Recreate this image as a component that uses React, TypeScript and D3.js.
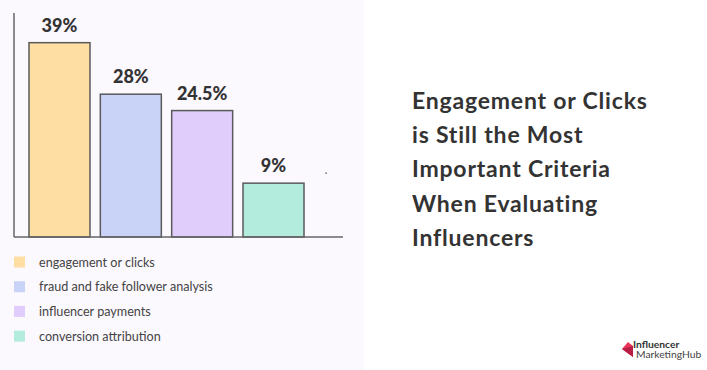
import * as React from "react"
import * as d3 from "d3"

// chart values
const categories = ["engagement or clicks", "fraud and fake follower analysis", "influencer payments", "conversion attribution"]
const shares = [39, 28, 24.5, 9]
const valueLabels = ["39%", "28%", "24.5%", "9%"]
const barColors = ["#ffdea3", "#c9d3f7", "#e1cdfb", "#b3ecdc"]
const titleLines = ["Engagement or Clicks", "is Still the Most", "Important Criteria", "When Evaluating", "Influencers"]

const font = "Lato, 'Open Sans', sans-serif"

export default function App() {
    const [w, h] = [707, 370]
    const axis = { left: 14, top: 13, bottom: 237, right: 343 }

    const xScale = d3
        .scaleBand()
        .domain(categories)
        .range([29, 304])
        .paddingInner(0.145)
        .paddingOuter(0)

    const yScale = d3
        .scaleLinear()
        .domain([-2.5, 40])
        .range([axis.bottom, 38])

    const bars = categories.map((c, i) => {
        const x = xScale(c) ?? 0
        const y = yScale(shares[i])
        return (
            <g key={c}>
                <rect
                    x={x}
                    y={y}
                    width={xScale.bandwidth()}
                    height={axis.bottom - y}
                    fill={barColors[i]}
                    stroke="#5a5a5a"
                    strokeWidth={1.5}
                />
                <text
                    x={x + xScale.bandwidth() / 2}
                    y={y - 11}
                    textAnchor="middle"
                    fontSize={18}
                    fontWeight={900}
                    fontFamily={font}
                    fill="#333"
                >
                    {valueLabels[i]}
                </text>
            </g>
        )
    })

    const legend = categories.map((c, i) => (
        <g key={c} transform={`translate(14, ${262 + i * 24.7})`}>
            <rect x={0} y={-5.5} width={11} height={11} fill={barColors[i]} />
            <text x={25} y={4.5} fontSize={12.6} fontFamily={font} fill="#444">
                {c}
            </text>
        </g>
    ))

    return (
        <div>
            <svg width={w} height={h} style={{ position: "absolute", left: 0, top: 0 }}>
                <rect x={0} y={0} width={w} height={h} fill="#ffffff" />
                <rect x={0} y={0} width={364} height={h} fill="#fbf8fe" />
                {bars}
                <line x1={axis.left} x2={axis.left} y1={axis.top} y2={axis.bottom} stroke="#666" strokeWidth={1.5} />
                <line x1={axis.left} x2={axis.right} y1={axis.bottom} y2={axis.bottom} stroke="#666" strokeWidth={1.5} />
                <rect x={325.5} y={172.5} width={1.2} height={1.2} fill="#222" />
                {legend}
                <g fontFamily={font} fontWeight={700} fontSize={23} letterSpacing={0.8} fill="#333">
                    {titleLines.map((t, i) => (
                        <text key={i} x={412} y={109 + i * 34.2}>{t}</text>
                    ))}
                </g>
                <g transform="translate(622, 342)">
                    <path d="M0,7 L6,0 L11,4 L11,15 Z" fill="#e8335a" />
                    <path d="M0,7 L11,4 L11,15 Z" fill="#b81e44" />
                    <text x={11} y={5.5} fontSize={10.3} fontWeight={700} fontFamily={font} fill="#333">Influencer</text>
                    <text x={14} y={16} fontSize={10.3} fontFamily={font} fill="#444">MarketingHub</text>
                </g>
            </svg>
        </div>
    )
}
